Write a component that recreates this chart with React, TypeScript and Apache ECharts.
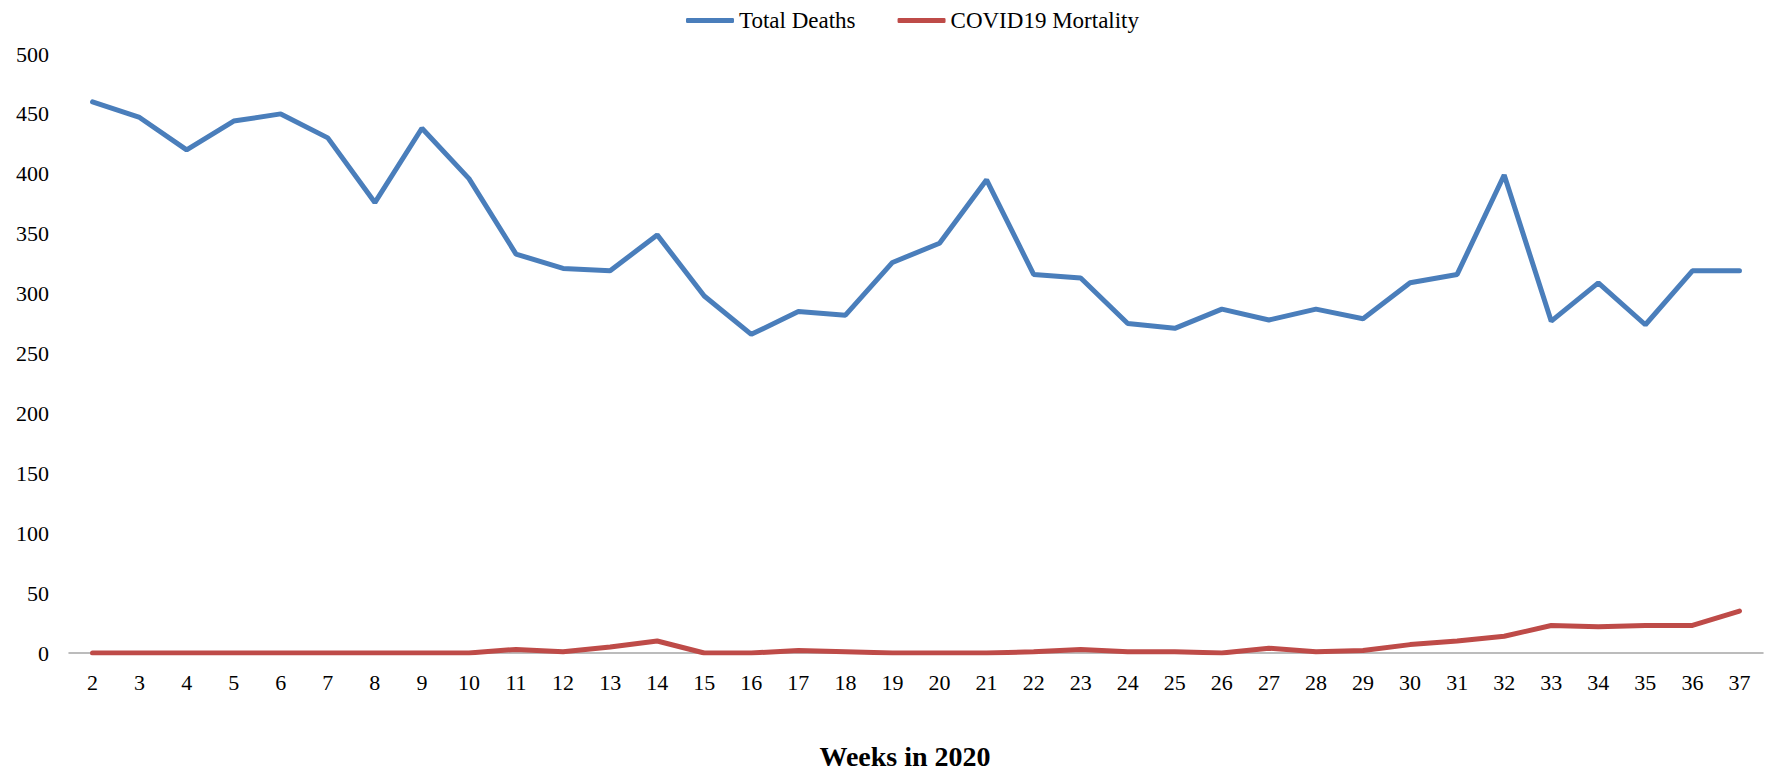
import React, { useEffect, useRef } from "react";
import * as echarts from "echarts";

const weeks = [
  "2", "3", "4", "5", "6", "7", "8", "9", "10", "11", "12", "13", "14", "15", "16", "17", "18", "19",
  "20", "21", "22", "23", "24", "25", "26", "27", "28", "29", "30", "31", "32", "33", "34", "35", "36", "37",
];

const totalDeaths = [
  460, 447, 420, 444, 450, 430, 376, 438, 396, 333, 321, 319, 349, 298, 266, 285, 282, 326,
  342, 395, 316, 313, 275, 271, 287, 278, 287, 279, 309, 316, 399, 277, 309, 274, 319, 319,
];

const covidMortality = [
  0, 0, 0, 0, 0, 0, 0, 0, 0, 3, 1, 5, 10, 0, 0, 2, 1, 0,
  0, 0, 1, 3, 1, 1, 0, 4, 1, 2, 7, 10, 14, 23, 22, 23, 23, 35,
];

const yTicks = [0, 50, 100, 150, 200, 250, 300, 350, 400, 450, 500];

const FONT = "'Liberation Serif', 'Times New Roman', serif";

export default function App() {
  const ref = useRef<HTMLDivElement>(null);

  useEffect(() => {
    document.body.style.margin = "0";
    if (!ref.current) return;
    const chart = echarts.init(ref.current, undefined, { renderer: "svg" });
    chart.setOption({
      animation: false,
      backgroundColor: "#ffffff",
      textStyle: { fontFamily: FONT, color: "#000" },
      legend: {
        left: 681,
        top: 4,
        icon: "roundRect",
        itemWidth: 48,
        itemHeight: 5,
        itemGap: 42,
        textStyle: { fontFamily: FONT, fontSize: 23, color: "#000" },
        data: ["Total Deaths", "COVID19 Mortality"],
      },
      grid: { left: 69, right: 3, top: 54, bottom: 117, containLabel: false },
      xAxis: {
        type: "category",
        data: weeks,
        boundaryGap: true,
        name: "Weeks in 2020",
        nameLocation: "middle",
        nameGap: 89,
        nameTextStyle: {
          fontFamily: FONT,
          fontSize: 28,
          fontWeight: "bold",
          color: "#000",
          padding: [0, 22, 0, 0],
        },
        axisLine: { show: true, lineStyle: { color: "#A6A6A6", width: 1.5 } },
        axisTick: { show: false },
        axisLabel: { fontFamily: FONT, fontSize: 22, color: "#000", margin: 18, interval: 0 },
        splitLine: { show: false },
      },
      yAxis: {
        type: "value",
        min: yTicks[0],
        max: yTicks[yTicks.length - 1],
        interval: 50,
        axisLine: { show: false },
        axisTick: { show: false },
        splitLine: { show: false },
        axisLabel: { fontFamily: FONT, fontSize: 22, color: "#000", margin: 20 },
      },
      series: [
        {
          name: "Total Deaths",
          type: "line",
          data: totalDeaths,
          symbol: "none",
          lineStyle: { color: "#4A7EBB", width: 5, cap: "round" },
          itemStyle: { color: "#4A7EBB" },
        },
        {
          name: "COVID19 Mortality",
          type: "line",
          data: covidMortality,
          symbol: "none",
          lineStyle: { color: "#BE4B48", width: 5, cap: "round" },
          itemStyle: { color: "#BE4B48" },
        },
      ],
    });
    return () => chart.dispose();
  }, []);

  return <div ref={ref} style={{ width: 1766, height: 775 }} />;
}
